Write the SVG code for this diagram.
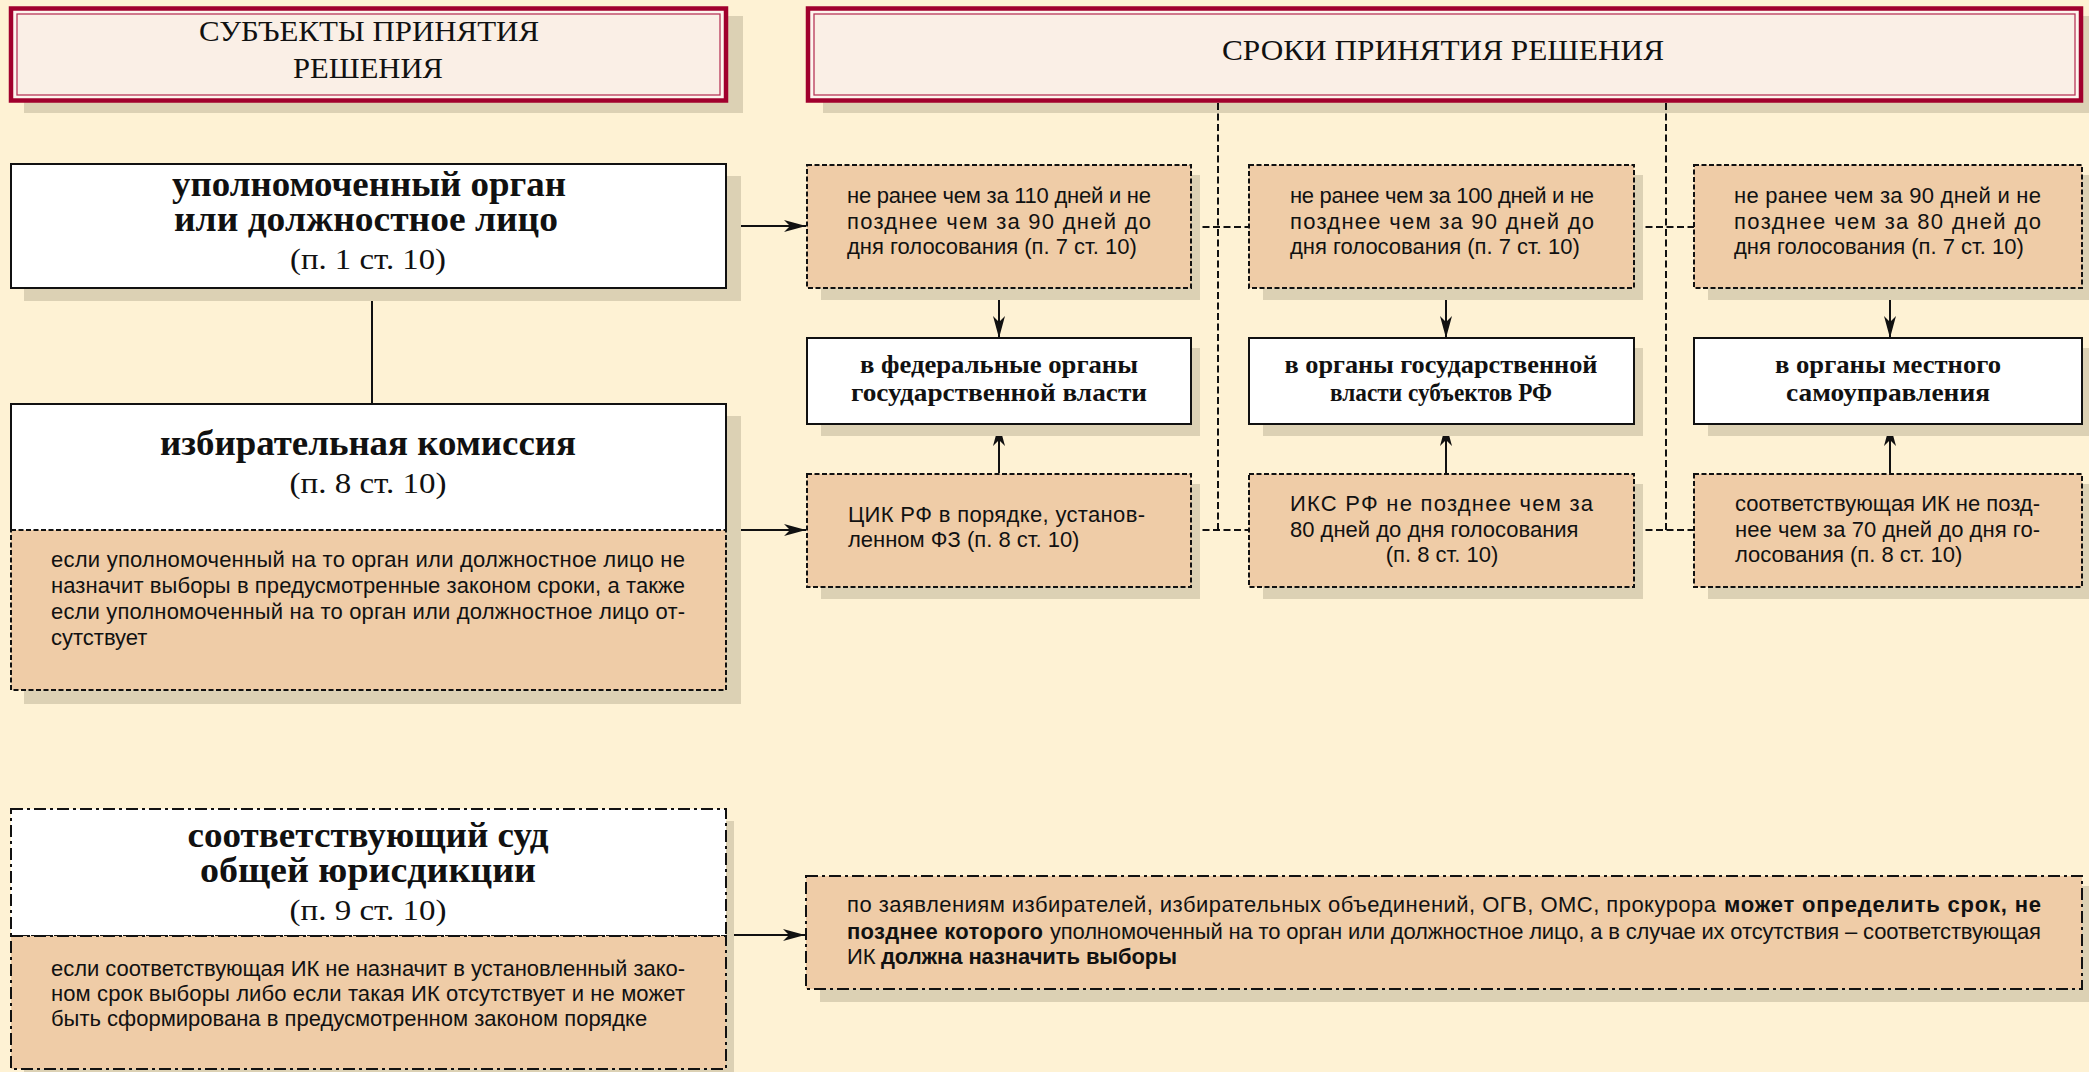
<svg xmlns="http://www.w3.org/2000/svg" width="2089" height="1072" viewBox="0 0 2089 1072">
<style>
.bg{fill:#fef2d4}
.sh{fill:#dcd1b4}
.tout{fill:#fdf5ee;stroke:#a1002d;stroke-width:4.5}
.tin{fill:#faefe6;stroke:#b8365a;stroke-width:1.3}
.wb{fill:#ffffff;stroke:#111;stroke-width:2}
.bd{fill:#efcca7;stroke:#111;stroke-width:2;stroke-dasharray:5 2.5}
.dd{stroke:#111;stroke-width:2;stroke-dasharray:12 4 3 4}
.ttl{font-family:"Liberation Serif","Times New Roman",serif;font-size:30px;fill:#111;text-anchor:middle}
.hb{font-family:"Liberation Serif","Times New Roman",serif;font-size:35px;font-weight:bold;fill:#111;text-anchor:middle}
.hr{font-family:"Liberation Serif","Times New Roman",serif;font-size:30px;fill:#111;text-anchor:middle}
.sb{font-family:"Liberation Serif","Times New Roman",serif;font-size:26px;font-weight:bold;fill:#111;text-anchor:middle}
.t{font-family:"Liberation Sans",Arial,sans-serif;font-size:22px;fill:#111}
.tb{font-family:"Liberation Sans",Arial,sans-serif;font-size:22px;font-weight:bold;fill:#111}
.c{stroke:#111;stroke-width:2;fill:none}
.cd{stroke:#111;stroke-width:2;fill:none;stroke-dasharray:7 3.5}
</style>
<defs>
<marker id="ah" viewBox="0 0 22 12" refX="22" refY="6" markerWidth="22" markerHeight="12" markerUnits="userSpaceOnUse" orient="auto">
<path d="M0,0 L22,6 L0,12 L6,6 z" fill="#111"/>
</marker>
</defs>
<rect class="bg" x="0" y="0" width="2089" height="1072"/>

<g id="title-subjects">
<rect class="sh" x="24" y="16" width="719" height="97"/>
<rect class="tout" x="11" y="8.5" width="715" height="92"/>
<rect class="tin" x="17" y="14" width="703" height="81"/>
<text class="ttl" x="369" y="41" textLength="340" lengthAdjust="spacingAndGlyphs">СУБЪЕКТЫ ПРИНЯТИЯ</text>
<text class="ttl" x="368" y="78" textLength="150" lengthAdjust="spacingAndGlyphs">РЕШЕНИЯ</text>
</g>

<g id="title-terms">
<rect class="sh" x="823" y="16" width="1266" height="97"/>
<rect class="tout" x="808" y="8.5" width="1273" height="92"/>
<rect class="tin" x="814" y="14" width="1261" height="81"/>
<text class="ttl" x="1443" y="60" textLength="442" lengthAdjust="spacingAndGlyphs">СРОКИ ПРИНЯТИЯ РЕШЕНИЯ</text>
</g>

<g id="connectors">
<line class="c" x1="727" y1="226" x2="806" y2="226" marker-end="url(#ah)"/>
<line class="c" x1="372" y1="289" x2="372" y2="404"/>
<line class="c" x1="727" y1="530" x2="806" y2="530" marker-end="url(#ah)"/>
<line class="c" x1="727" y1="935" x2="805" y2="935" marker-end="url(#ah)"/>
<line class="c" x1="999" y1="289" x2="999" y2="338" marker-end="url(#ah)"/>
<line class="c" x1="1446" y1="289" x2="1446" y2="338" marker-end="url(#ah)"/>
<line class="c" x1="1890" y1="289" x2="1890" y2="338" marker-end="url(#ah)"/>
<line class="c" x1="999" y1="473" x2="999" y2="424" marker-end="url(#ah)"/>
<line class="c" x1="1446" y1="473" x2="1446" y2="424" marker-end="url(#ah)"/>
<line class="c" x1="1890" y1="473" x2="1890" y2="424" marker-end="url(#ah)"/>
<line class="cd" x1="1218" y1="103" x2="1218" y2="530"/>
<line class="cd" x1="1666" y1="103" x2="1666" y2="530"/>
<line class="cd" x1="1192" y1="227" x2="1249" y2="227"/>
<line class="cd" x1="1635" y1="227" x2="1694" y2="227"/>
<line class="cd" x1="1192" y1="530" x2="1249" y2="530"/>
<line class="cd" x1="1635" y1="530" x2="1694" y2="530"/>
</g>

<g id="authorized-body">
<rect class="sh" x="24" y="176" width="717" height="125"/>
<rect class="wb" x="11" y="164" width="715" height="124"/>
<text class="hb" x="369" y="196" textLength="394" lengthAdjust="spacingAndGlyphs">уполномоченный орган</text>
<text class="hb" x="366" y="231" textLength="384" lengthAdjust="spacingAndGlyphs">или должностное лицо</text>
<text class="hr" x="368" y="269" textLength="156" lengthAdjust="spacingAndGlyphs">(п. 1 ст. 10)</text>
</g>

<g id="election-commission">
<rect class="sh" x="24" y="416" width="717" height="288"/>
<rect x="11" y="404" width="715" height="126" fill="#ffffff"/>
<path class="c" d="M11,530 V404 H726 V530"/>
<rect class="bd" x="11" y="530" width="715" height="160"/>
<text class="hb" x="368" y="455" textLength="416" lengthAdjust="spacingAndGlyphs">избирательная комиссия</text>
<text class="hr" x="368" y="493" textLength="157" lengthAdjust="spacingAndGlyphs">(п. 8 ст. 10)</text>
<text class="t" x="51" y="567" textLength="634">если уполномоченный на то орган или должностное лицо не</text>
<text class="t" x="51" y="593" textLength="634">назначит выборы в предусмотренные законом сроки, а также</text>
<text class="t" x="51" y="619" textLength="634">если уполномоченный на то орган или должностное лицо от-</text>
<text class="t" x="51" y="645">сутствует</text>
</g>

<g id="court">
<rect class="sh" x="24" y="821" width="710" height="260"/>
<rect class="dd" x="11" y="809" width="715" height="127" fill="#ffffff"/>
<rect class="dd" x="11" y="936" width="715" height="133" fill="#efcca7"/>
<text class="hb" x="368" y="847" textLength="361" lengthAdjust="spacingAndGlyphs">соответствующий суд</text>
<text class="hb" x="368" y="882" textLength="336" lengthAdjust="spacingAndGlyphs">общей юрисдикции</text>
<text class="hr" x="368" y="920" textLength="157" lengthAdjust="spacingAndGlyphs">(п. 9 ст. 10)</text>
<text class="t" x="51" y="976" textLength="634">если соответствующая ИК не назначит в установленный зако-</text>
<text class="t" x="51" y="1001" textLength="634">ном срок выборы либо если такая ИК отсутствует и не может</text>
<text class="t" x="51" y="1026">быть сформирована в предусмотренном законом порядке</text>
</g>

<g id="term-federal">
<rect class="sh" x="821" y="175" width="379" height="125"/>
<rect class="bd" x="807" y="165" width="384" height="123"/>
<text class="t" x="847" y="203" textLength="304">не ранее чем за 110 дней и не</text>
<text class="t" x="847" y="228.5" textLength="304">позднее чем за 90 дней до</text>
<text class="t" x="847" y="254">дня голосования (п. 7 ст. 10)</text>
</g>

<g id="term-regional">
<rect class="sh" x="1263" y="175" width="380" height="125"/>
<rect class="bd" x="1249" y="165" width="385" height="123"/>
<text class="t" x="1290" y="203" textLength="304">не ранее чем за 100 дней и не</text>
<text class="t" x="1290" y="228.5" textLength="304">позднее чем за 90 дней до</text>
<text class="t" x="1290" y="254">дня голосования (п. 7 ст. 10)</text>
</g>

<g id="term-local">
<rect class="sh" x="1708" y="175" width="381" height="125"/>
<rect class="bd" x="1694" y="165" width="388" height="123"/>
<text class="t" x="1734" y="203" textLength="307">не ранее чем за 90 дней и не</text>
<text class="t" x="1734" y="228.5" textLength="307">позднее чем за 80 дней до</text>
<text class="t" x="1734" y="254">дня голосования (п. 7 ст. 10)</text>
</g>

<g id="org-federal">
<rect class="sh" x="821" y="348" width="379" height="88"/>
<rect class="wb" x="807" y="338" width="384" height="86"/>
<text class="sb" x="999" y="373" textLength="278" lengthAdjust="spacingAndGlyphs">в федеральные органы</text>
<text class="sb" x="999" y="401" textLength="296" lengthAdjust="spacingAndGlyphs">государственной власти</text>
</g>

<g id="org-regional">
<rect class="sh" x="1263" y="348" width="380" height="88"/>
<rect class="wb" x="1249" y="338" width="385" height="86"/>
<text class="sb" x="1441" y="373" textLength="313" lengthAdjust="spacingAndGlyphs">в органы государственной</text>
<text class="sb" x="1441" y="401" textLength="222" lengthAdjust="spacingAndGlyphs">власти субъектов РФ</text>
</g>

<g id="org-local">
<rect class="sh" x="1708" y="348" width="381" height="88"/>
<rect class="wb" x="1694" y="338" width="388" height="86"/>
<text class="sb" x="1888" y="373" textLength="226" lengthAdjust="spacingAndGlyphs">в органы местного</text>
<text class="sb" x="1888" y="401" textLength="204" lengthAdjust="spacingAndGlyphs">самоуправления</text>
</g>

<g id="cec">
<rect class="sh" x="821" y="484" width="379" height="115"/>
<rect class="bd" x="807" y="474" width="384" height="113"/>
<text class="t" x="848" y="522" textLength="297">ЦИК РФ в порядке, установ-</text>
<text class="t" x="848" y="547">ленном ФЗ (п. 8 ст. 10)</text>
</g>

<g id="ics">
<rect class="sh" x="1263" y="484" width="380" height="115"/>
<rect class="bd" x="1249" y="474" width="385" height="113"/>
<text class="t" x="1290" y="511" textLength="303">ИКС РФ не позднее чем за</text>
<text class="t" x="1290" y="536.5">80 дней до дня голосования</text>
<text class="t" x="1442" y="562" text-anchor="middle">(п. 8 ст. 10)</text>
</g>

<g id="local-ec">
<rect class="sh" x="1708" y="484" width="381" height="115"/>
<rect class="bd" x="1694" y="474" width="388" height="113"/>
<text class="t" x="1735" y="511" textLength="305">соответствующая ИК не позд-</text>
<text class="t" x="1735" y="536.5" textLength="305">нее чем за 70 дней до дня го-</text>
<text class="t" x="1735" y="562">лосования (п. 8 ст. 10)</text>
</g>

<g id="court-decision">
<rect class="sh" x="820" y="886" width="1269" height="116"/>
<rect class="dd" x="806" y="876" width="1276" height="113" fill="#efcca7"/>
<text class="t" x="847" y="912" textLength="869">по заявлениям избирателей, избирательных объединений, ОГВ, ОМС, прокурора</text>
<text class="tb" x="1724" y="912" textLength="317">может определить срок, не</text>
<text class="tb" x="847" y="938.5" textLength="196">позднее которого</text>
<text class="t" x="1050" y="938.5" textLength="991">уполномоченный на то орган или должностное лицо, а в случае их отсутствия – соответствующая</text>
<text class="t" x="847" y="964">ИК</text>
<text class="tb" x="881" y="964" textLength="296">должна назначить выборы</text>
</g>
</svg>
